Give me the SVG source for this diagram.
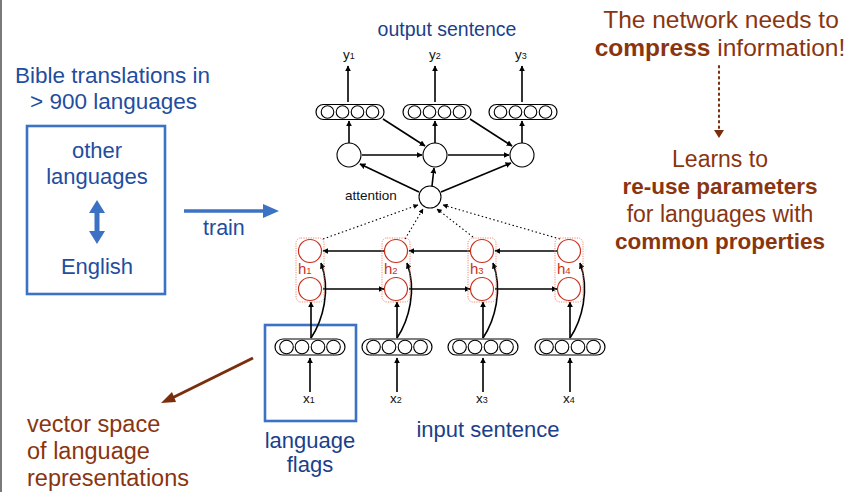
<svg xmlns="http://www.w3.org/2000/svg" width="852" height="492" viewBox="0 0 852 492">
<style>
.blue{fill:#1f4da0;font-family:"Liberation Sans",Arial,sans-serif}
.navy{fill:#1b3f8a;font-family:"Liberation Sans",Arial,sans-serif}
.brown{fill:#8a3510;font-family:"Liberation Sans",Arial,sans-serif}
.bold{font-weight:bold}
.lbl{fill:#111;font-family:"Liberation Sans",Arial,sans-serif;font-size:13.5px}
.red{fill:#c8321e;font-family:"Liberation Sans",Arial,sans-serif;font-size:15px}
.ln{stroke:#000;stroke-width:1.6;fill:none}
.dot{stroke:#000;stroke-width:1.1;fill:none;stroke-dasharray:1.5 2.5}
.nd{fill:#fff;stroke:#000;stroke-width:1.1}
.rn{fill:#fff;stroke:#c8321e;stroke-width:1.2}
.bx{fill:none;stroke:#f08a78;stroke-width:1;stroke-dasharray:1.2 1.2}
.pill{fill:#fff;stroke:#000;stroke-width:1.2}
.blk{fill:none;stroke:#3b72c4;stroke-width:2.6}
</style>
<defs>
<marker id="ah" viewBox="0 0 10 10" refX="9" refY="5" markerWidth="6" markerHeight="6" markerUnits="userSpaceOnUse" orient="auto"><path d="M0,0 L10,5 L0,10 z" fill="#000"/></marker>
<marker id="ahs" viewBox="0 0 10 10" refX="9" refY="5" markerWidth="5" markerHeight="5" markerUnits="userSpaceOnUse" orient="auto"><path d="M0,0 L10,5 L0,10 z" fill="#000"/></marker>
<g id="pillS"><rect class="pill" x="-34" y="-7.5" width="68" height="15" rx="7.5"/><circle class="nd" cx="-22.5" cy="0" r="6.3"/><circle class="nd" cx="-7.5" cy="0" r="6.3"/><circle class="nd" cx="7.5" cy="0" r="6.3"/><circle class="nd" cx="22.5" cy="0" r="6.3"/></g>
<g id="pillL"><rect class="pill" x="-35" y="-8" width="70" height="16" rx="8"/><circle class="nd" cx="-23.5" cy="0" r="6.8"/><circle class="nd" cx="-8" cy="0" r="6.8"/><circle class="nd" cx="8" cy="0" r="6.8"/><circle class="nd" cx="23.5" cy="0" r="6.8"/></g>
</defs>
<rect x="0" y="0" width="852" height="492" fill="#fff"/>
<rect x="0" y="0" width="2" height="492" fill="#7a7a7a"/>

<!-- left -->
<g id="bible-text">
<text class="blue" x="15" y="83" font-size="22.5">Bible translations in</text>
<text class="blue" x="30" y="109" font-size="22.5">&gt; 900 languages</text>
</g>
<g id="corpus-box">
<rect class="blk" x="27" y="126" width="138" height="168"/>
<text class="blue" x="97" y="158" font-size="22" text-anchor="middle">other</text>
<text class="blue" x="97" y="184" font-size="22" text-anchor="middle">languages</text>
<text class="blue" x="97" y="274" font-size="22" text-anchor="middle">English</text>
<path d="M97,200 L105,213 L99.5,213 L99.5,231 L105,231 L97,244 L89,231 L94.5,231 L94.5,213 L89,213 Z" fill="#3b72c4"/>
</g>
<g id="train">
<line x1="184" y1="211" x2="265" y2="211" stroke="#3b72c4" stroke-width="3.5"/>
<path d="M263,204 L279,211 L263,218 Z" fill="#3b72c4"/>
<text class="blue" x="203" y="235" font-size="21.5">train</text>
</g>
<g id="vector-space">
<line x1="253" y1="358" x2="170" y2="399" stroke="#7a2e0c" stroke-width="3"/>
<path d="M161,403 L172,392 L176,402 Z" fill="#7a2e0c"/>
<text class="brown" x="27" y="432" font-size="23.5">vector space</text>
<text class="brown" x="27" y="459" font-size="23.5">of language</text>
<text class="brown" x="27" y="486" font-size="23.5">representations</text>
</g>

<!-- right -->
<g id="compress">
<text class="brown" x="721" y="28" font-size="24.5" text-anchor="middle">The network needs to</text>
<text class="brown" x="720" y="56" font-size="24.5" text-anchor="middle"><tspan class="bold">compress</tspan> information!</text>
<line x1="719" y1="66" x2="719" y2="130" stroke="#7a2e0c" stroke-width="2" stroke-dasharray="1.5 4" stroke-linecap="round"/>
<path d="M714,130 L724,130 L719,138 Z" fill="#7a2e0c"/>
</g>
<g id="learns">
<text class="brown" x="720" y="167" font-size="23" text-anchor="middle">Learns to</text>
<text class="brown bold" x="720" y="194" font-size="22.5" text-anchor="middle">re-use parameters</text>
<text class="brown" x="720" y="222" font-size="23" text-anchor="middle">for languages with</text>
<text class="brown bold" x="720" y="249" font-size="22.5" text-anchor="middle">common properties</text>
</g>

<!-- network labels -->
<text class="navy" x="447" y="36" font-size="19.5" text-anchor="middle">output sentence</text>
<text class="navy" x="488" y="437" font-size="22" text-anchor="middle">input sentence</text>
<g id="flags">
<rect class="blk" x="265" y="325" width="91" height="96"/>
<text class="navy" x="310" y="448" font-size="22" text-anchor="middle">language</text>
<text class="navy" x="310" y="472" font-size="22" text-anchor="middle">flags</text>
</g>

<!-- connectors -->
<g id="connectors">
<line class="ln" x1="348" y1="102" x2="348" y2="66" marker-end="url(#ah)"/>
<line class="ln" x1="435" y1="102" x2="435" y2="66" marker-end="url(#ah)"/>
<line class="ln" x1="522" y1="102" x2="522" y2="66" marker-end="url(#ah)"/>
<line class="ln" x1="349" y1="143" x2="349" y2="121" marker-end="url(#ah)"/>
<line class="ln" x1="435" y1="143" x2="435" y2="121" marker-end="url(#ah)"/>
<line class="ln" x1="522" y1="143" x2="522" y2="121" marker-end="url(#ah)"/>
<line class="ln" x1="362" y1="155" x2="422" y2="155" marker-end="url(#ah)"/>
<line class="ln" x1="448" y1="155" x2="509" y2="155" marker-end="url(#ah)"/>
<line class="ln" x1="383" y1="119" x2="425" y2="146" marker-end="url(#ah)"/>
<line class="ln" x1="470" y1="119" x2="512" y2="146" marker-end="url(#ah)"/>
<line class="ln" x1="419" y1="192" x2="360" y2="164" marker-end="url(#ah)"/>
<line class="ln" x1="432" y1="186" x2="434" y2="168" marker-end="url(#ah)"/>
<line class="ln" x1="441" y1="192" x2="511" y2="163" marker-end="url(#ah)"/>
<line class="dot" x1="323" y1="239" x2="418" y2="205" marker-end="url(#ahs)"/>
<line class="dot" x1="405" y1="239" x2="423" y2="209" marker-end="url(#ahs)"/>
<line class="dot" x1="473" y1="237" x2="437" y2="209" marker-end="url(#ahs)"/>
<line class="dot" x1="560" y1="239" x2="443" y2="205" marker-end="url(#ahs)"/>
<line class="ln" x1="384" y1="251" x2="323" y2="251" marker-end="url(#ah)"/>
<line class="ln" x1="470" y1="251" x2="409" y2="251" marker-end="url(#ah)"/>
<line class="ln" x1="557" y1="251" x2="495" y2="251" marker-end="url(#ah)"/>
<line class="ln" x1="323" y1="289" x2="384" y2="289" marker-end="url(#ah)"/>
<line class="ln" x1="409" y1="289" x2="470" y2="289" marker-end="url(#ah)"/>
<line class="ln" x1="495" y1="289" x2="557" y2="289" marker-end="url(#ah)"/>
<line class="ln" x1="311" y1="338" x2="311" y2="302" marker-end="url(#ah)"/>
<line class="ln" x1="397" y1="338" x2="397" y2="302" marker-end="url(#ah)"/>
<line class="ln" x1="483" y1="338" x2="483" y2="302" marker-end="url(#ah)"/>
<line class="ln" x1="570" y1="338" x2="570" y2="302" marker-end="url(#ah)"/>
<path class="ln" d="M311,338 C323,320 331,290 321,263" marker-end="url(#ah)"/>
<path class="ln" d="M397,338 C409,320 417,290 407,263" marker-end="url(#ah)"/>
<path class="ln" d="M483,338 C495,320 503,290 493,263" marker-end="url(#ah)"/>
<path class="ln" d="M570,338 C582,320 590,290 580,263" marker-end="url(#ah)"/>
<line class="ln" x1="310" y1="392" x2="310" y2="358" marker-end="url(#ah)"/>
<line class="ln" x1="397" y1="392" x2="397" y2="358" marker-end="url(#ah)"/>
<line class="ln" x1="483" y1="392" x2="483" y2="358" marker-end="url(#ah)"/>
<line class="ln" x1="570" y1="392" x2="570" y2="358" marker-end="url(#ah)"/>
</g>

<!-- outputs -->
<g id="y1"><text class="lbl" x="343" y="59">y<tspan font-size="9">1</tspan></text></g>
<g id="y2"><text class="lbl" x="429" y="59">y<tspan font-size="9">2</tspan></text></g>
<g id="y3"><text class="lbl" x="515" y="59">y<tspan font-size="9">3</tspan></text></g>
<g id="out-vec1"><use href="#pillS" x="350" y="112"/></g>
<g id="out-vec2"><use href="#pillS" x="437" y="112"/></g>
<g id="out-vec3"><use href="#pillS" x="523" y="112"/></g>
<g id="dec1"><circle class="nd" cx="349" cy="155" r="12"/></g>
<g id="dec2"><circle class="nd" cx="435" cy="155" r="12"/></g>
<g id="dec3"><circle class="nd" cx="522" cy="155" r="12"/></g>
<g id="attention"><circle class="nd" cx="430" cy="197" r="11"/><text class="lbl" x="345" y="200" font-size="14">attention</text></g>

<!-- encoder -->
<g id="h1"><rect class="bx" x="296" y="238" width="28" height="64" rx="5"/><circle class="rn" cx="310" cy="251" r="11.5"/><circle class="rn" cx="310" cy="289" r="11.5"/><text class="red" x="298" y="274">h<tspan font-size="9.5">1</tspan></text></g>
<g id="h2"><rect class="bx" x="382" y="238" width="28" height="64" rx="5"/><circle class="rn" cx="396" cy="251" r="11.5"/><circle class="rn" cx="396" cy="289" r="11.5"/><text class="red" x="384" y="274">h<tspan font-size="9.5">2</tspan></text></g>
<g id="h3"><rect class="bx" x="468" y="238" width="28" height="64" rx="5"/><circle class="rn" cx="482" cy="251" r="11.5"/><circle class="rn" cx="482" cy="289" r="11.5"/><text class="red" x="470" y="274">h<tspan font-size="9.5">3</tspan></text></g>
<g id="h4"><rect class="bx" x="555" y="238" width="28" height="64" rx="5"/><circle class="rn" cx="569" cy="251" r="11.5"/><circle class="rn" cx="569" cy="289" r="11.5"/><text class="red" x="557" y="274">h<tspan font-size="9.5">4</tspan></text></g>

<g id="in-vec1"><use href="#pillL" x="310" y="347"/></g>
<g id="in-vec2"><use href="#pillL" x="397" y="347"/></g>
<g id="in-vec3"><use href="#pillL" x="483" y="347"/></g>
<g id="in-vec4"><use href="#pillL" x="570" y="347"/></g>
<g id="x1"><text class="lbl" x="303" y="403">x<tspan font-size="9">1</tspan></text></g>
<g id="x2"><text class="lbl" x="390" y="403">x<tspan font-size="9">2</tspan></text></g>
<g id="x3"><text class="lbl" x="476" y="403">x<tspan font-size="9">3</tspan></text></g>
<g id="x4"><text class="lbl" x="563" y="403">x<tspan font-size="9">4</tspan></text></g>
</svg>
